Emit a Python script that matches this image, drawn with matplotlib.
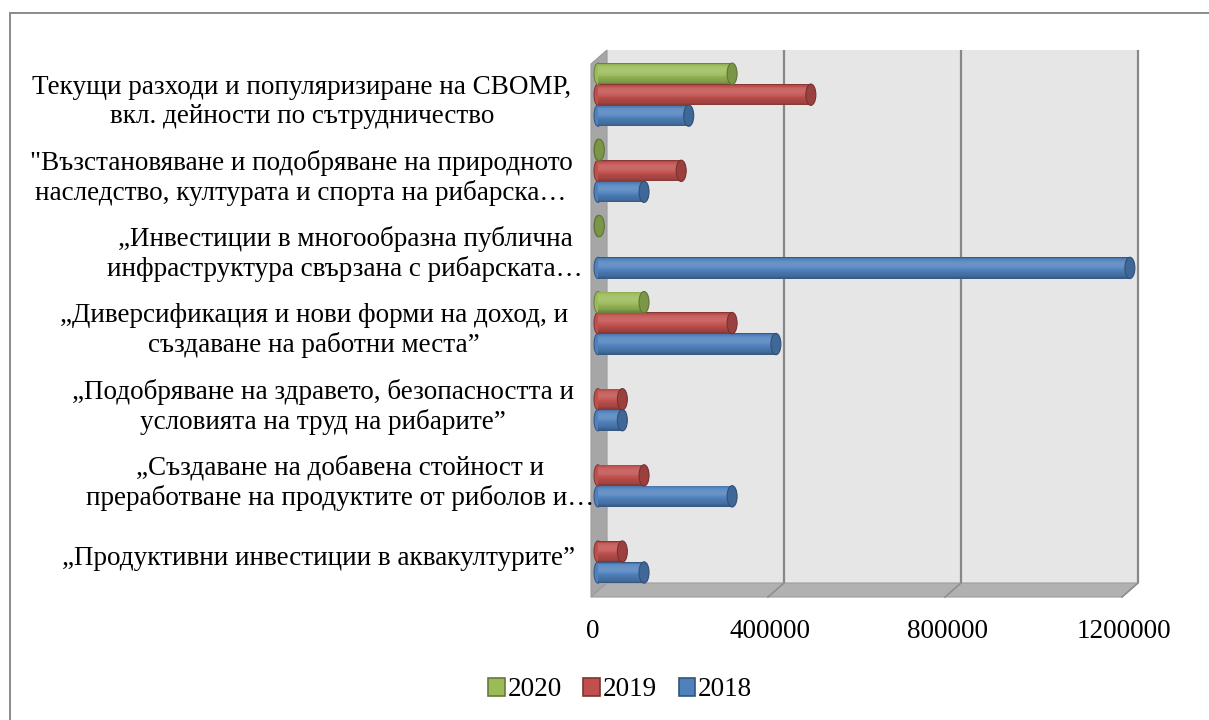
import matplotlib
matplotlib.use('Agg')
import matplotlib.pyplot as plt
from matplotlib.patches import Polygon, Rectangle, Ellipse, Patch
import matplotlib.colors as mcolors
import numpy as np

# ---------------- data (bottom to top) ----------------
categories = [
    '„Продуктивни инвестиции в аквакултурите”',
    '„Създаване на добавена стойност и\nпреработване на продуктите от риболов и…',
    '„Подобряване на здравето, безопасността и\nусловията на труд на рибарите”',
    '„Диверсификация и нови форми на доход, и\nсъздаване на работни места”',
    '„Инвестиции в многообразна публична\nинфраструктура свързана с рибарската…',
    '"Възстановяване и подобряване на природното\nнаследство, културата и спорта на рибарска…',
    'Текущи разходи и популяризиране на СВОМР,\nвкл. дейности по сътрудничество',
]
v2018 = [104000, 303000, 55000, 402000, 1202000, 104000, 205000]
v2019 = [55000, 104000, 55000, 303000, 0, 188000, 481000]
v2020 = [0, 0, 0, 104000, 3000, 3000, 303000]
series_names = ['2020', '2019', '2018']
xticks = [0, 400000, 800000, 1200000]
xtick_labels = ['0', '400000', '800000', '1200000']

# ---------------- layout / style ----------------
W, H = 1209, 720
FONT = 'Liberation Serif'
FS = 19.5
plt.rcParams['font.family'] = [FONT, 'DejaVu Serif']

fig = plt.figure(figsize=(W / 100, H / 100), dpi=100)
def fx(px): return px / W
def fy(py): return 1 - py / H

L, R, T, B = 598, 1129, 57, 590
ax = fig.add_axes([fx(L), fy(B), (R - L) / W, (B - T) / H])
XMAX = 1200000
NCAT = len(categories)
ax.set_xlim(0, XMAX)
ax.set_ylim(0, NCAT)
ax.axis('off')
sx = XMAX / (R - L)
sy = NCAT / (B - T)

FRONT = (-7, -7)
BACK = (9, 7)
def P(x, y, d):
    return (x + d[0] * sx, y + d[1] * sy)

# back wall
back = Polygon([P(0, 0, BACK), P(XMAX, 0, BACK), P(XMAX, NCAT, BACK), P(0, NCAT, BACK)],
               closed=True, facecolor='#e6e6e6', edgecolor='none', zorder=0, clip_on=False)
ax.add_patch(back)
# side wall
side = Polygon([P(0, 0, FRONT), P(0, 0, BACK), P(0, NCAT, BACK), P(0, NCAT, FRONT)],
               closed=True, facecolor='#a6a6a6', edgecolor='#9a9a9a', lw=0.8, zorder=0.5, clip_on=False)
ax.add_patch(side)
# floor
floor = Polygon([P(0, 0, FRONT), P(XMAX, 0, FRONT), P(XMAX, 0, BACK), P(0, 0, BACK)],
                closed=True, facecolor='#b1b1b1', edgecolor='#9c9c9c', lw=0.8, zorder=0.5, clip_on=False)
ax.add_patch(floor)
# gridlines on back wall + floor diagonals
for xt in xticks[1:]:
    x0, y0 = P(xt, 0, BACK)
    x1, y1 = P(xt, NCAT, BACK)
    ax.plot([x0, x1], [y0, y1], color='#878787', lw=1.6, zorder=1, clip_on=False, solid_capstyle='butt')
    fx0, fy0 = P(xt, 0, FRONT)
    ax.plot([fx0, x0], [fy0, y0], color='#8e8e8e', lw=1.2, zorder=1, clip_on=False)

# ---------------- cylinders ----------------
BAR_H = 0.28
offsets = {'2018': 0.23, '2019': 0.505, '2020': 0.78}
colors = {'2018': '#4F81BD', '2019': '#C0504D', '2020': '#9BBB59'}
values = {'2018': v2018, '2019': v2019, '2020': v2020}

def shade(c, f):
    r = np.array(mcolors.to_rgb(c))
    if f <= 1:
        return tuple(r * f)
    return tuple(r + (1 - r) * (f - 1))

def cylinder(name, zbase):
    vals = np.array(values[name], dtype=float)
    base = colors[name]
    y = np.arange(NCAT) + offsets[name]
    nz = vals > 0
    capw = 10 * sx
    # left rounded end
    for yi, v in zip(y[nz], vals[nz]):
        ax.add_patch(Ellipse((0, yi), capw * 0.8, BAR_H, facecolor=shade(base, 1.0),
                             edgecolor=shade(base, 0.7), lw=0.8, zorder=zbase, clip_on=False))
    # outline body
    ax.barh(y[nz], vals[nz], height=BAR_H, left=0, color=shade(base, 0.7), zorder=zbase + 0.1)
    # shaded strips
    n = 22
    inner = BAR_H * 0.93
    for i in range(n):
        t = -1 + (2 * i + 1) / n          # -1 bottom .. 1 top
        f = 0.9 + 0.22 * np.exp(-((t - 0.3) / 0.6) ** 2) + 0.08 * t
        f -= 0.12 * max(0, abs(t) - 0.75) / 0.25
        yc = y[nz] - inner / 2 + (i + 0.5) * inner / n
        ax.barh(yc, vals[nz], height=inner / n * 1.08, left=0, color=shade(base, f),
                zorder=zbase + 0.2, linewidth=0)
    # end cap
    for yi, v in zip(y[nz], vals[nz]):
        ax.add_patch(Ellipse((v, yi), capw, BAR_H, facecolor=shade(base, 0.8),
                             edgecolor=shade(base, 0.62), lw=0.8, zorder=zbase + 0.3, clip_on=False))

cylinder('2018', 3)
cylinder('2019', 4)
cylinder('2020', 5)

# ---------------- labels ----------------
label_cx = [319, 340, 323, 314, 345, 301, 302]
for k, (lab, cx) in enumerate(zip(categories, label_cx)):
    xa = (cx - L) * sx
    ya = k + 0.5 + FRONT[1] * sy
    ax.text(xa, ya, lab, ha='center', va='center', multialignment='center',
            fontsize=FS, family=FONT, linespacing=1.2, clip_on=False)

for xt, lab in zip(xticks, xtick_labels):
    ax.text(xt - 5 * sx, -42 * sy, lab, ha='center', va='center', fontsize=FS,
            family=FONT, clip_on=False)

handles = [Patch(facecolor=colors[n], edgecolor=shade(colors[n], 0.65), lw=1.2) for n in series_names]
fig.legend(handles, series_names, loc='center', bbox_to_anchor=(fx(620), fy(690)),
           ncol=3, frameon=False, fontsize=FS, handlelength=0.62, handleheight=0.62,
           handletextpad=0.1, columnspacing=0.8, prop={'family': FONT, 'size': FS})

# chart frame
fig.add_artist(Rectangle((fx(10), fy(740)), fx(1230) - fx(10), fy(13) - fy(740),
                         transform=fig.transFigure, fill=False, edgecolor='#8a8a8a', lw=1.4))

fig.savefig('out.png', dpi=100)
